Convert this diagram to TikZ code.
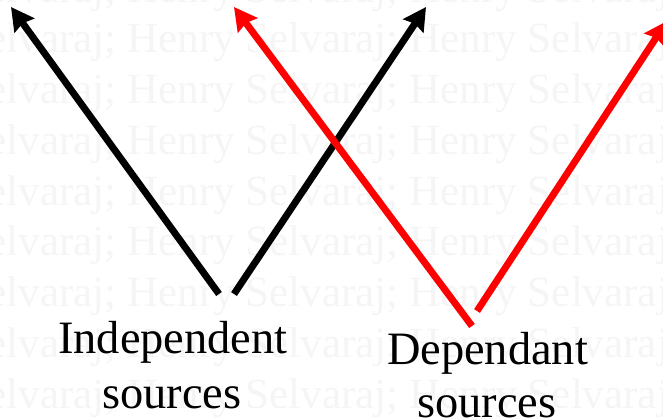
\documentclass[tikz,border=0pt]{standalone}
\usepackage{fontspec}
\setmainfont{Liberation Serif}
\usetikzlibrary{arrows.meta}
\begin{document}
\begin{tikzpicture}[x=0.75pt,y=-0.75pt,
  wm/.style={text=black!4, font=\fontsize{32.3}{38}\selectfont, anchor=base west, inner sep=0pt},
  lbl/.style={font=\fontsize{34.8}{41}\selectfont, anchor=base, inner sep=0pt},
  arr/.style={line width=5.2pt, line cap=butt, -{Stealth[length=17pt, width=18pt, inset=2pt]}},
  blk/.style={arr, draw=black},
  redarr/.style={arr, draw=red, fill=red},
]
\useasboundingbox (0,0) rectangle (663,419);
\clip (0,0) rectangle (663,419);
\foreach \i in {0,...,8} {
  \node[wm] (w\i) at (127, 2+50.75*\i) {\llap{Selvaraj;\ }Henry Selvaraj; Henry Selvaraj; Henry Selvaraj;};
}
% arrow end points
\coordinate (b1s) at (219,294);
\coordinate (b1t) at (11,7);
\coordinate (b2s) at (234,294);
\coordinate (b2t) at (426,7);
\coordinate (r1s) at (472,326);
\coordinate (r1t) at (234,7);
\coordinate (r2s) at (477,311);
\coordinate (r2t) at (667,21);
\draw[blk] (b1s) -- (b1t);
\draw[blk] (b2s) -- (b2t);
\draw[redarr] (r1s) -- (r1t);
\draw[redarr] (r2s) -- (r2t);
% labels
\node[lbl] (ind1) at (173,353) {Independent};
\node[lbl] (ind2) at (172,408) {sources};
\node[lbl] (dep1) at (487.5,364) {Dependant};
\node[lbl] (dep2) at (487,417) {sources};
\end{tikzpicture}
\end{document}
